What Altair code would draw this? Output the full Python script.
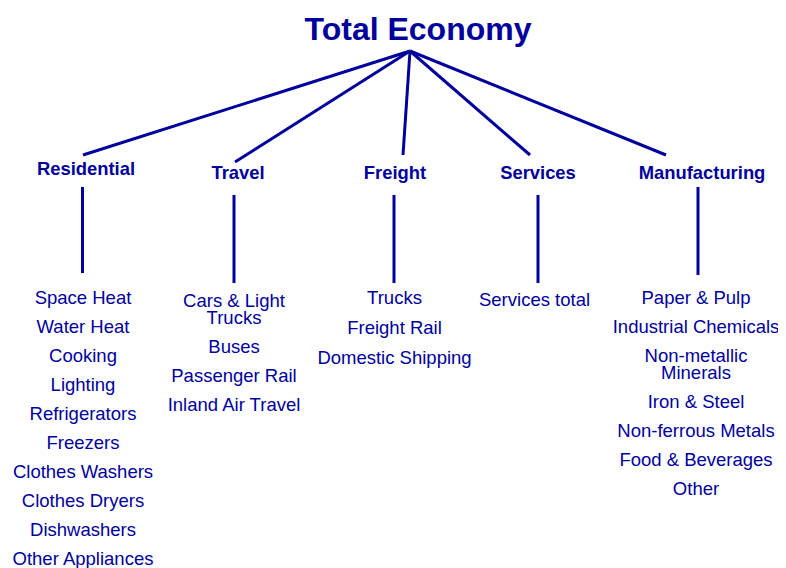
import altair as alt
import pandas as pd

# ---------------- data ----------------
root_label = "Total Economy"
sectors = ["Residential", "Travel", "Freight", "Services", "Manufacturing"]
residential_items = ["Space Heat", "Water Heat", "Cooking", "Lighting", "Refrigerators",
                     "Freezers", "Clothes Washers", "Clothes Dryers", "Dishwashers",
                     "Other Appliances"]
travel_items = ["Cars & Light\nTrucks", "Buses", "Passenger Rail", "Inland Air Travel"]
freight_items = ["Trucks", "Freight Rail", "Domestic Shipping"]
services_items = ["Services total"]
manufacturing_items = ["Paper & Pulp", "Industrial Chemicals", "Non-metallic\nMinerals",
                       "Iron & Steel", "Non-ferrous Metals", "Food & Beverages", "Other"]
sector_items = [residential_items, travel_items, freight_items, services_items,
                manufacturing_items]

# ---------------- layout (page pixel units) ----------------
ROOT_XY = (418, 40)          # title anchor (baseline)
ROOT_NODE = (410, 51)        # where the links start
LINK_END = [(83, 155), (235, 162), (403, 155), (530, 155), (666, 155)]
HEAD_XY = [(86, 174.5), (238, 178.5), (395, 178.5), (538, 178.5), (702, 178.5)]
VLINE = [(82.5, 187, 273), (234, 195, 283), (394, 195, 283), (538, 195, 283), (698, 187, 275)]
COL_X = [83, 234, 394.5, 534.5, 696]
ITEM_BASE = [303.5, 306.5, 303.5, 305.5, 303.5]
ITEM_GAP = [29, 29, 30, 29, 29]
LINE_GAP = 17.5

BLUE = "#00009C"
FONT = "Liberation Sans"

# ---------------- tables ----------------
links = pd.DataFrame([
    {"x": ROOT_NODE[0], "y": ROOT_NODE[1], "x2": ex, "y2": ey, "sector": s}
    for s, (ex, ey) in zip(sectors, LINK_END)
] + [
    {"x": vx, "y": y0, "x2": vx, "y2": y1, "sector": s}
    for s, (vx, y0, y1) in zip(sectors, VLINE)
])

heads = pd.DataFrame([
    {"x": hx, "y": hy, "label": s} for s, (hx, hy) in zip(sectors, HEAD_XY)
])

title_df = pd.DataFrame([{"x": ROOT_XY[0], "y": ROOT_XY[1], "label": root_label}])

rows = []
for i, items in enumerate(sector_items):
    y = ITEM_BASE[i]
    for item in items:
        lines = item.split("\n")
        for j, line in enumerate(lines):
            rows.append({"x": COL_X[i], "y": y + j * LINE_GAP, "label": line,
                         "sector": sectors[i]})
        y += (len(lines) - 1) * LINE_GAP + ITEM_GAP[i]
items_df = pd.DataFrame(rows)

# ---------------- scales ----------------
W, H = 770, 560
xs = alt.Scale(domain=[8, 8 + W], range=[0, W], nice=False, zero=False)
ys = alt.Scale(domain=[8, 8 + H], range=[0, H], nice=False, zero=False)

X = alt.X("x:Q", scale=xs, axis=None)
Y = alt.Y("y:Q", scale=ys, axis=None)

rules = alt.Chart(links).mark_rule(color=BLUE, strokeWidth=3).encode(
    x=X, y=Y, x2="x2:Q", y2="y2:Q"
)

title_txt = alt.Chart(title_df).mark_text(
    font=FONT, fontSize=32, fontWeight="bold", color=BLUE,
    align="center", baseline="alphabetic"
).encode(x=X, y=Y, text="label:N")

head_txt = alt.Chart(heads).mark_text(
    font=FONT, fontSize=18.4, fontWeight="bold", color=BLUE,
    align="center", baseline="alphabetic"
).encode(x=X, y=Y, text="label:N")

item_txt = alt.Chart(items_df).mark_text(
    font=FONT, fontSize=18.5, color=BLUE,
    align="center", baseline="alphabetic"
).encode(x=X, y=Y, text="label:N")

chart = alt.layer(rules, title_txt, head_txt, item_txt).properties(
    width=W, height=H, padding=0, autosize=alt.AutoSizeParams(type="none"),
    background="white"
).configure_view(stroke=None)

chart.save("out.html", embed_options={"renderer": "svg", "actions": False})
